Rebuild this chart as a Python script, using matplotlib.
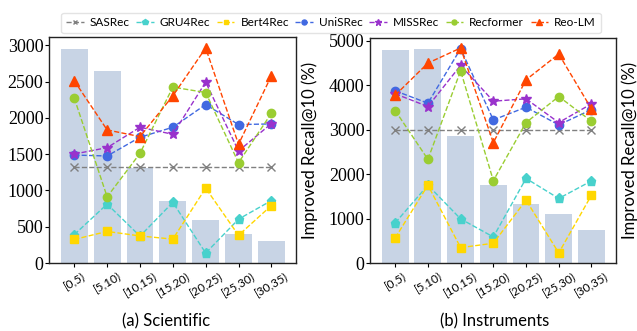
""" Improved Recall@10 per user-group, two datasets side by side. """
import matplotlib
matplotlib.use("Agg")
import matplotlib.pyplot as plt

#-------------------------------------------------------------------------------
groups = ["[0,5)", "[5,10)", "[10,15)", "[15,20)", "[20,25)", "[25,30)", "[30,35)"]
models = ["SASRec", "GRU4Rec", "Bert4Rec", "UniSRec", "MISSRec", "Recformer", "Reo-LM"]

# Scientific
sci_bars = [2954, 2650, 1313, 848, 586, 394, 300]
sci_sasrec = [1318, 1318, 1318, 1318, 1318, 1318, 1318]
sci_gru4rec = [391, 812, 370, 836, 137, 604, 860]
sci_bert4rec = [325, 435, 373, 329, 1032, 382, 792]
sci_unisrec = [1488, 1475, 1733, 1871, 2184, 1908, 1917]
sci_missrec = [1502, 1590, 1871, 1774, 2493, 1544, 1922]
sci_recformer = [2272, 912, 1511, 2424, 2350, 1382, 2064]
sci_reolm = [2511, 1834, 1742, 2304, 2963, 1636, 2580]

# Instruments
ins_bars = [4782, 4820, 2857, 1752, 1323, 1103, 737]
ins_sasrec = [2995, 2995, 2995, 2995, 2995, 2995, 2995]
ins_gru4rec = [902, 1750, 992, 586, 1902, 1451, 1846]
ins_bert4rec = [564, 1750, 346, 444, 1414, 226, 1526]
ins_unisrec = [3872, 3594, 4820, 3218, 3504, 3105, 3450]
ins_missrec = [3805, 3519, 4444, 3639, 3692, 3158, 3580]
ins_recformer = [3429, 2331, 4323, 1852, 3158, 3744, 3188]
ins_reolm = [3774, 4496, 4835, 2707, 4120, 4699, 3466]

styles = {
    "SASRec":    dict(color="#808080", marker="x", ms=5.5),
    "GRU4Rec":   dict(color="#48d1cc", marker="p", ms=6.5),
    "Bert4Rec":  dict(color="#ffd700", marker="s", ms=6),
    "UniSRec":   dict(color="#4169e1", marker="o", ms=6),
    "MISSRec":   dict(color="#9932cc", marker="*", ms=7.5),
    "Recformer": dict(color="#9acd32", marker="o", ms=6),
    "Reo-LM":    dict(color="#ff4500", marker="^", ms=6.5),
}

#-------------------------------------------------------------------------------
def draw_panel(axes, bars, lines, ymax, yticks):
    xs = range(len(groups))
    axes.bar(xs, bars, 0.82, color="#c8d4e5", zorder=1)
    for name, vals in zip(models, lines):
        st = styles[name]
        axes.plot(xs, vals, linestyle="--", linewidth=1.0, color=st["color"],
                  marker=st["marker"], markersize=st["ms"], label=name, zorder=3)
    axes.set_xlim(-0.77, 6.75)
    axes.set_ylim(0, ymax)
    axes.set_xticks(list(xs))
    axes.set_xticklabels(groups, rotation=30, ha="center", fontsize=8.5,
                         family="Lato")
    axes.set_yticks(yticks)
    axes.set_yticklabels([str(v) for v in yticks], fontsize=13,
                         family="Liberation Serif")
    axes.tick_params(axis="x", length=3, pad=2)
    axes.tick_params(axis="y", length=3, pad=1)
    axes.yaxis.set_label_position("right")
    axes.set_ylabel("Improved Recall@10 (%)", fontsize=12, family="Lato",
                    labelpad=4)
    for sp in axes.spines.values():
        sp.set_color("#222222")
        sp.set_linewidth(1.0)

#-------------------------------------------------------------------------------
fig = plt.figure(figsize=(6.37, 3.31), dpi=100)
ax1 = fig.add_axes([49 / 637, 68 / 331, 247 / 637, 226 / 331])
ax2 = fig.add_axes([370 / 637, 68 / 331, 246 / 637, 225 / 331])

draw_panel(ax1, sci_bars,
           [sci_sasrec, sci_gru4rec, sci_bert4rec, sci_unisrec, sci_missrec,
            sci_recformer, sci_reolm], 3115, [0, 500, 1000, 1500, 2000, 2500, 3000])
draw_panel(ax2, ins_bars,
           [ins_sasrec, ins_gru4rec, ins_bert4rec, ins_unisrec, ins_missrec,
            ins_recformer, ins_reolm], 5060, [0, 1000, 2000, 3000, 4000, 5000])

fig.text(166 / 637, 1 - 321 / 331, "(a) Scientific", ha="center", va="center",
         fontsize=12, family="Lato")
fig.text(495 / 637, 1 - 321 / 331, "(b) Instruments", ha="center", va="center",
         fontsize=12, family="Lato")

handles, labels = ax1.get_legend_handles_labels()
fig.legend(handles, labels, loc="center", bbox_to_anchor=(331 / 637, 1 - 23 / 331),
           ncol=7, prop={"family": "Lato", "size": 8.5}, markerscale=0.6,
           handlelength=1.5, handletextpad=0.5, columnspacing=0.55,
           frameon=True, edgecolor="#dddddd", fancybox=True, borderpad=0.4)

plt.savefig("out.png", dpi=100)
